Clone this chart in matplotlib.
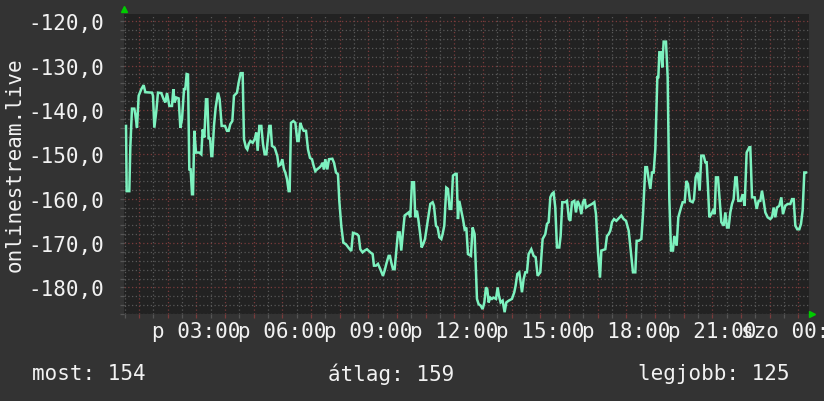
import matplotlib
matplotlib.use("Agg")
from matplotlib import pyplot as plt
from matplotlib.ticker import MultipleLocator, FixedLocator
from matplotlib.transforms import offset_copy

# percek ejfel utan (pentek) es a mert ertekek
minutes = [
    33.1, 34.5, 40.0, 42.1, 45.6, 50.5, 52.6, 56.1, 59.6, 65.2, 70.0, 73.5, 87.5, 89.6, 92.4, 96.6,
    100.0, 107.0, 111.9, 115.4, 118.9, 123.8, 129.3, 132.1, 134.9, 138.4, 143.3, 146.8, 150.3, 154.5,
    157.2, 160.0, 162.8, 165.6, 168.4, 171.2, 173.3, 176.1, 179.6, 186.5, 190.7, 193.5, 197.0, 200.5,
    203.3, 206.1, 208.9, 211.7, 213.7, 217.2, 220.7, 225.6, 229.1, 233.3, 240.3, 244.4, 247.9, 251.4,
    255.6, 259.1, 265.4, 268.9, 273.0, 277.2, 280.0, 284.2, 287.0, 289.8, 293.3, 298.2, 302.3, 305.8,
    308.6, 312.1, 316.3, 319.8, 323.3, 326.8, 328.9, 333.0, 335.8, 338.6, 344.2, 349.8, 352.6, 356.8,
    360.2, 363.7, 366.5, 370.0, 373.5, 375.6, 378.4, 383.3, 387.5, 391.6, 394.4, 397.9, 401.4, 404.9,
    409.8, 414.0, 418.1, 422.3, 425.8, 429.3, 432.8, 437.7, 441.2, 444.7, 447.4, 450.2, 454.4, 457.9,
    464.9, 468.4, 472.6, 476.7, 479.5, 483.7, 487.9, 493.5, 499.1, 504.6, 508.1,
    516.5, 520.0, 523.4, 528.3, 532.5, 537.4, 544.4, 549.3, 552.0, 556.2, 560.4, 565.3, 570.9, 574.4,
    577.9, 582.7, 585.5, 588.3, 591.8, 595.3, 598.8, 602.3, 605.8, 609.2, 612.7, 616.2, 619.7, 624.6,
    628.1, 631.6, 635.8, 638.5, 642.0, 644.8, 648.3, 651.8, 655.3, 658.8, 665.1, 669.9, 674.8, 677.6,
    681.8, 685.3, 688.8, 693.0, 695.7, 699.2, 703.4, 706.9, 710.4, 713.9, 717.4, 722.3, 725.0, 727.8,
    730.6, 734.8, 738.3, 741.8, 745.3, 748.8, 755.0, 758.5, 762.7, 767.6, 771.1, 775.3, 779.5, 783.0,
    786.4, 789.2, 792.0, 795.5, 799.0, 802.5, 807.4, 810.9, 813.6, 817.1, 821.3, 825.5, 829.0, 833.9,
    840.8, 845.7, 848.5, 852.0, 856.2, 861.8, 865.3, 868.8, 872.2, 875.7, 881.3, 886.2, 890.4, 894.6,
    900.1, 905.0, 910.6, 914.1, 917.6, 921.1, 924.6, 928.0, 931.5, 935.0, 939.9, 942.7, 946.2, 952.5,
    956.0, 960.1, 962.9, 966.4, 971.3, 974.8, 978.3, 982.5, 986.0, 989.4,
    993.0, 995.8, 1001.4, 1008.3, 1013.2, 1016.7, 1020.9, 1025.1, 1027.9, 1036.2, 1039.7, 1043.2,
    1046.7, 1050.2, 1054.4, 1059.3, 1062.7, 1069.7, 1074.6, 1079.5, 1085.1, 1090.6, 1094.1, 1099.0,
    1101.8, 1106.0, 1111.6, 1115.1, 1120.0, 1123.4, 1126.9, 1130.4, 1133.9, 1137.4, 1140.9, 1145.1,
    1147.2, 1149.3, 1152.7, 1155.5, 1158.3, 1163.2, 1166.7, 1170.2, 1173.7, 1177.8, 1180.6, 1185.5,
    1189.0, 1193.9, 1198.1, 1202.3, 1205.8, 1209.2, 1213.4, 1219.0, 1221.8, 1225.3, 1229.5, 1233.6,
    1237.1, 1242.0, 1245.5, 1248.3, 1251.1, 1253.9, 1258.1, 1261.6, 1265.1, 1267.8, 1272.0, 1274.8,
    1279.0, 1283.9, 1287.4, 1290.9, 1294.3, 1297.8, 1301.3, 1304.8, 1308.3, 1311.1, 1314.6, 1319.5,
    1323.6, 1327.8, 1332.0, 1337.6, 1339.7, 1343.2, 1348.8, 1352.9, 1357.1, 1360.6, 1364.1, 1367.6,
    1371.1, 1376.0, 1381.5, 1385.0, 1388.5, 1392.0, 1395.5, 1400.4, 1404.6, 1408.0, 1412.9, 1417.8,
    1423.4, 1426.9, 1430.4, 1433.9, 1438.0, 1442.2, 1445.7, 1449.2, 1452.7, 1456.2,
]
values = [
    -143.6, -158.3, -158.3, -148.5, -139.7, -139.7, -141.0, -144.0, -136.8, -135.3, -134.4, -136.0, -136.1, -136.8, -144.0, -140.2,
    -136.1, -136.2, -137.6, -138.3, -136.2, -139.1, -139.1, -135.3, -138.3, -137.2, -137.4, -144.0, -142.1, -135.3,
    -135.3, -131.9, -132.0, -153.4, -153.4, -159.0, -159.0, -144.7, -149.6, -149.6, -150.0, -144.4, -146.2, -137.6,
    -137.6, -146.6, -146.2, -150.4, -150.4, -143.6, -139.5, -136.1, -137.6, -143.6, -143.6, -144.7, -144.7, -143.2,
    -142.5, -136.8, -136.1, -133.8, -131.7, -131.7, -146.6, -148.5, -148.9, -147.7, -147.0, -147.4, -146.6, -145.1,
    -149.2, -143.6, -143.6, -147.7, -150.0, -150.0, -147.7, -143.6, -143.6, -148.1, -148.5, -150.4, -152.6, -152.3,
    -151.1, -153.4, -154.1, -155.6, -158.3, -158.3, -142.9, -142.5, -142.9, -147.0, -147.0, -142.9, -144.0, -144.7,
    -144.7, -148.9, -150.8, -151.1, -152.6, -153.8, -153.4, -153.0, -152.6, -151.9, -153.4, -151.1, -153.4, -151.1,
    -151.0, -151.9, -154.1, -154.5, -160.5, -166.2, -169.9, -170.3, -171.1, -171.8, -167.7,
    -168.0, -168.4, -171.4, -172.1, -171.7, -171.4, -172.1, -172.5, -175.1, -175.1, -174.7, -175.9, -177.4, -176.2,
    -174.7, -172.9, -172.9, -174.4, -175.9, -175.9, -171.7, -167.6, -167.6, -171.7, -167.6, -163.8, -163.5, -163.1,
    -164.2, -156.3, -156.3, -164.2, -162.7, -164.6, -167.6, -171.0, -170.2, -169.1, -164.6, -161.2, -160.8, -161.6,
    -166.1, -166.5, -168.7, -169.1, -168.0, -166.1, -157.5, -157.8, -162.3, -162.3, -154.8, -154.4, -154.4, -164.6,
    -160.5, -162.7, -164.6, -166.9, -166.5, -172.5, -172.9, -166.5, -168.0, -182.6, -183.8, -184.1, -184.9, -183.4,
    -180.0, -180.4, -183.4, -182.3, -182.6, -182.3, -182.6, -180.0, -181.9, -183.4, -183.0, -185.6, -183.4, -183.0,
    -182.6, -181.1, -179.6, -177.0, -176.6, -181.1, -178.1, -176.6, -176.6, -172.5, -171.4, -172.9, -173.2, -177.4,
    -176.6, -169.1, -168.0, -165.7, -165.3, -159.7, -158.9, -158.6, -162.0, -171.0, -171.0, -168.4, -160.8, -160.8,
    -160.5, -164.6, -165.0, -160.8, -160.5, -163.1, -160.5, -161.6, -163.5, -160.8,
    -160.1, -162.0, -161.6, -161.2, -160.8, -163.5, -172.1, -177.8, -171.7, -171.4, -168.4, -168.0,
    -167.2, -165.3, -164.6, -165.0, -164.6, -163.8, -164.6, -165.0, -167.2, -172.9, -176.6, -176.6,
    -169.5, -169.5, -169.1, -163.5, -152.9, -152.9, -155.6, -157.8, -154.1, -154.1, -148.8, -132.6,
    -132.6, -127.0, -127.0, -130.4, -124.6, -124.6, -132.6, -160.1, -171.7, -171.7, -168.4, -170.6,
    -164.2, -162.3, -160.8, -160.8, -156.0, -156.7, -160.5, -160.8, -160.1, -155.2, -154.1, -158.2,
    -150.3, -150.3, -151.8, -151.8, -157.5, -164.2, -163.5, -162.7, -163.5, -155.2, -155.2, -159.3,
    -165.3, -166.1, -163.1, -166.5, -166.5, -163.1, -161.2, -160.1, -155.2, -155.2, -160.5, -160.5,
    -159.0, -161.6, -149.6, -148.4, -148.4, -159.7, -159.7, -162.3, -160.5, -160.5, -158.2, -160.5,
    -163.1, -164.2, -164.6, -164.2, -162.0, -164.2, -162.0, -161.6, -159.7, -163.5, -161.6, -161.2,
    -161.2, -160.1, -160.1, -166.1, -166.9, -166.9, -165.7, -162.7, -154.1, -154.1,
]

tick_minutes = [180, 360, 540, 720, 900, 1080, 1260, 1440]
tick_labels = ["p 03:00", "p 06:00", "p 09:00", "p 12:00", "p 15:00", "p 18:00", "p 21:00", "szo 00:00"]
y_ticks = [-180, -170, -160, -150, -140, -130, -120]
legend_texts = ["most: 154", "átlag: 159", "legjobb: 125"]

bg = "#333333"
plot_bg = "#222222"
fg = "#f2f2f2"
plt.rcParams["font.family"] = ["DejaVu Sans Mono"]

fig = plt.figure(figsize=(8.24, 4.02), dpi=100, facecolor=bg)
ax = fig.add_axes([124 / 824, 1 - 315 / 402, 685 / 824, (315 - 14.7) / 402])
ax.set_facecolor(plot_bg)

ax.set_xlim(28.9, 1462.5)
ax.set_ylim(-186.0, -118.3)

# racs: perc/ora, 2/10 egyseg
ax.xaxis.set_major_locator(MultipleLocator(60))
ax.xaxis.set_minor_locator(MultipleLocator(30))
ax.yaxis.set_major_locator(MultipleLocator(10))
ax.yaxis.set_minor_locator(MultipleLocator(2))
ax.grid(which="minor", color="#585858", linestyle=(0, (1, 2)), linewidth=0.9)
ax.grid(which="major", color="#7a3b3b", linestyle=(0, (1, 2)), linewidth=0.9)
ax.tick_params(which="both", length=3, width=0.9, color="#555555", labelsize=15, labelcolor=fg)
ax.tick_params(axis="x", which="major", color="#7a3b3b", labelbottom=False)
ax.tick_params(axis="y", which="major", pad=11)
for s in ax.spines.values():
    s.set_visible(False)

ax.set_yticks(y_ticks)
ax.set_yticklabels([f"{v:.1f}".replace(".", ",") for v in y_ticks])

# idocimkek kulon tengelyen, hogy a racsot ne zavarjak
sec = ax.secondary_xaxis("bottom")
sec.xaxis.set_major_locator(FixedLocator(tick_minutes))
sec.set_xticklabels(tick_labels)
sec.tick_params(length=0, pad=5, labelsize=15, labelcolor=fg)
sec.spines["bottom"].set_visible(False)

ax.plot(minutes, values, color="#7df2bf", linewidth=1.8, solid_joinstyle="miter")

fig.text(15 / 824, 1 - 165 / 402, "onlinestream.live", fontsize=15, color=fg,
         rotation=90, ha="center", va="center")

# zold nyilak
up = offset_copy(ax.transAxes, fig=fig, x=0, y=5, units="dots")
ax.plot([0], [1], marker="^", markersize=5, color="#00cc00", transform=up, clip_on=False)
right = offset_copy(ax.transAxes, fig=fig, x=3, y=0, units="dots")
ax.plot([1], [0], marker=">", markersize=5, color="#00cc00", transform=right, clip_on=False)

for txt, x in zip(legend_texts, [32, 328, 638]):
    fig.text(x / 824, 1 - 374 / 402, txt, fontsize=15, color=fg, ha="left", va="center")

fig.savefig("out.png", dpi=100, facecolor=bg)
